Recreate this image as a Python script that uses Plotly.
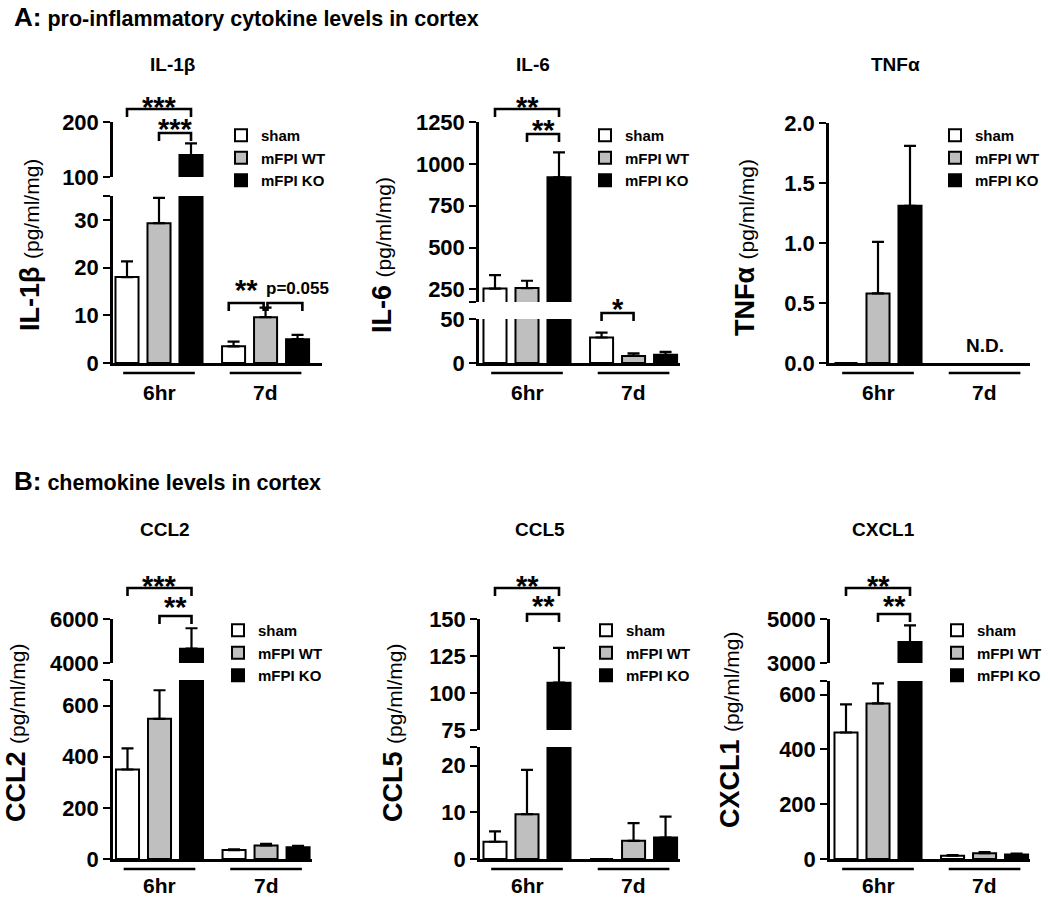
import plotly.graph_objects as go

W, H = 1050, 897
FONT = "Liberation Sans, Arial, sans-serif"

# ---------------- data ----------------
groups = ["6hr", "7d"]
conditions = ["sham", "mFPI WT", "mFPI KO"]
bar_fill = ["#ffffff", "#bfbfbf", "#000000"]

# order of values: 6hr sham, 6hr mFPI WT, 6hr mFPI KO, 7d sham, 7d mFPI WT, 7d mFPI KO
il1b_mean = [18.0, 29.3, 140.0, 3.5, 9.6, 5.0]
il1b_sem = [3.3, 5.3, 21.0, 1.0, 2.0, 0.9]
il6_mean = [255, 258, 920, 29, 8, 9.4]
il6_sem = [80, 44, 148, 5.5, 3, 3.3]
tnfa_mean = [0.0, 0.58, 1.31, None, None, None]
tnfa_sem = [0.0, 0.43, 0.50, None, None, None]
ccl2_mean = [350, 548, 4650, 35, 53, 46]
ccl2_sem = [83, 112, 930, 3, 6, 5]
ccl5_mean = [3.7, 9.6, 107, 0.0, 3.9, 4.6]
ccl5_sem = [2.2, 9.5, 23.5, 0.0, 3.8, 4.5]
cxcl1_mean = [462, 568, 3950, 12, 21, 16]
cxcl1_sem = [103, 73, 760, 2, 4, 4]

# broken-axis segments (range) and tick values
il1b_low, il1b_low_ticks = (0, 35), [0, 10, 20, 30]
il1b_up, il1b_up_ticks = (100, 200), [100, 200]
il6_low, il6_low_ticks = (0, 50), [0, 50]
il6_up, il6_up_ticks = (175, 1250), [250, 500, 750, 1000, 1250]
tnfa_low, tnfa_low_ticks = (0, 2.0), [0.0, 0.5, 1.0, 1.5, 2.0]
ccl2_low, ccl2_low_ticks = (0, 700), [0, 200, 400, 600]
ccl2_up, ccl2_up_ticks = (4000, 6000), [4000, 6000]
ccl5_low, ccl5_low_ticks = (0, 24), [0, 10, 20]
ccl5_up, ccl5_up_ticks = (75, 150), [75, 100, 125, 150]
cxcl1_low, cxcl1_low_ticks = (0, 650), [0, 200, 400, 600]
cxcl1_up, cxcl1_up_ticks = (3000, 5000), [3000, 5000]

# ---------------- layout helpers ----------------
positions = [0, 1, 2, 3.33, 4.33, 5.33]   # bar slots
BAR_W = 0.72
UNIT = 32.0  # px per slot

# bracket: (bar i, bar j, shift i, shift j, bracket y px, label, label dx, label centre y px)
panels = [
    dict(title="IL-1β", mean=il1b_mean, sem=il1b_sem, low=il1b_low, low_ticks=il1b_low_ticks,
         up=il1b_up, up_ticks=il1b_up_ticks, fmt="{:g}",
         ax_x=113, x_end=322, c0=127, low_px=(363, 196), up_px=(177, 122),
         title_xy=(173, 65), ylab_xy=(30, 245), leg_xy=(263, 136), under_y=373, lab_y=392,
         brackets=[(0, 2, 0, 0, 109, "***", 0, 101), (1, 2, 0, 0, 133, "***", 0, 123),
                   (3, 4, -0.15, -0.06, 303, "**", 0, 284),
                   (4, 5, 0.06, 0.15, 303, "p=0.055", 0.4, 288)],
         notes=[]),
    dict(title="IL-6", mean=il6_mean, sem=il6_sem, low=il6_low, low_ticks=il6_low_ticks,
         up=il6_up, up_ticks=il6_up_ticks, fmt="{:g}",
         ax_x=479, x_end=680, c0=495, low_px=(363, 319), up_px=(302, 122),
         title_xy=(533, 65), ylab_xy=(382, 255), leg_xy=(627, 136), under_y=373, lab_y=392,
         brackets=[(0, 2, 0, 0, 109, "**", 0, 101), (1, 2, 0, 0, 134, "**", 0, 124),
                   (3, 4, 0, 0, 313, "*", 0, 303)],
         notes=[]),
    dict(title="TNFα", mean=tnfa_mean, sem=tnfa_sem, low=tnfa_low, low_ticks=tnfa_low_ticks,
         up=None, up_ticks=None, fmt="{:.1f}",
         ax_x=829, x_end=1030, c0=846, low_px=(363, 123), up_px=None,
         title_xy=(895, 65), ylab_xy=(745, 248), leg_xy=(977, 136), under_y=373, lab_y=392,
         brackets=[], notes=[(4.33, 345, "N.D.")]),
    dict(title="CCL2", mean=ccl2_mean, sem=ccl2_sem, low=ccl2_low, low_ticks=ccl2_low_ticks,
         up=ccl2_up, up_ticks=ccl2_up_ticks, fmt="{:g}",
         ax_x=113, x_end=312, c0=127.5, low_px=(859, 680), up_px=(663, 619),
         title_xy=(165, 529), ylab_xy=(16, 733), leg_xy=(260, 631), under_y=869, lab_y=885,
         brackets=[(0, 2, 0, 0, 588, "***", 0, 580), (1, 2, 0, 0, 616, "**", 0, 601)],
         notes=[]),
    dict(title="CCL5", mean=ccl5_mean, sem=ccl5_sem, low=ccl5_low, low_ticks=ccl5_low_ticks,
         up=ccl5_up, up_ticks=ccl5_up_ticks, fmt="{:g}",
         ax_x=480, x_end=680, c0=495, low_px=(859, 747), up_px=(730, 619),
         title_xy=(540, 529), ylab_xy=(393, 733), leg_xy=(628, 631), under_y=869, lab_y=885,
         brackets=[(0, 2, 0, 0, 588, "**", 0, 580), (1, 2, 0, 0, 614, "**", 0, 600)],
         notes=[]),
    dict(title="CXCL1", mean=cxcl1_mean, sem=cxcl1_sem, low=cxcl1_low, low_ticks=cxcl1_low_ticks,
         up=cxcl1_up, up_ticks=cxcl1_up_ticks, fmt="{:g}",
         ax_x=830, x_end=1030, c0=846, low_px=(859, 681), up_px=(663, 619),
         title_xy=(883, 529), ylab_xy=(730, 730), leg_xy=(979, 631), under_y=869, lab_y=885,
         brackets=[(0, 2, 0, 0, 588, "**", 0, 580), (1, 2, 0, 0, 614, "**", 0, 600)],
         notes=[]),
]


def tref(prefix, n):
    return prefix if n == 1 else f"{prefix}{n}"


def lkey(prefix, n):
    return prefix + "axis" + ("" if n == 1 else str(n))


def seg_axis(rng, px, ticks, fmt, xanchor):
    vals = list(ticks)
    text = [fmt.format(v) for v in ticks]
    for end in rng:
        if not any(abs(end - v) < 1e-9 for v in vals):
            vals.append(end)
            text.append("")
    return dict(
        domain=[1 - px[0] / H, 1 - px[1] / H], range=list(rng), anchor=xanchor,
        showline=True, linewidth=2.5, linecolor="black", mirror=False,
        ticks="outside", ticklen=7, tickwidth=2.2, tickcolor="black",
        tickmode="array", tickvals=vals, ticktext=text,
        tickfont=dict(family=FONT, size=22, color="black", weight="bold"),
        showgrid=False, zeroline=False, fixedrange=True,
    )


fig = go.Figure()
layout = {}
annotations = []
OVY = 13

layout[lkey("y", OVY)] = dict(domain=[0, 1], range=[H, 0], visible=False, anchor="x7", fixedrange=True)

for k, p in enumerate(panels):
    mx, ox = k + 1, k + 7
    ly, uy = k + 1, k + 7
    xr = [(p["ax_x"] - p["c0"]) / UNIT, (p["x_end"] - p["c0"]) / UNIT]
    xdom = [p["ax_x"] / W, p["x_end"] / W]
    layout[lkey("x", mx)] = dict(domain=xdom, range=xr, anchor=tref("y", ly), showline=True,
                                 linewidth=2.5, linecolor="black", ticks="", showticklabels=False,
                                 showgrid=False, zeroline=False, fixedrange=True)
    layout[lkey("x", ox)] = dict(domain=xdom, range=xr, anchor=tref("y", OVY), visible=False,
                                 fixedrange=True)
    layout[lkey("y", ly)] = seg_axis(p["low"], p["low_px"], p["low_ticks"], p["fmt"], tref("x", mx))
    segs = [tref("y", ly)]
    if p["up"] is not None:
        layout[lkey("y", uy)] = seg_axis(p["up"], p["up_px"], p["up_ticks"], p["fmt"], tref("x", mx))
        segs.append(tref("y", uy))

    leg = "legend" if k == 0 else f"legend{k + 1}"
    lx, lyy = p["leg_xy"]
    layout[leg] = dict(x=(lx - 42) / W, y=1 - (lyy - 17) / H, xanchor="left", yanchor="top",
                       bgcolor="rgba(0,0,0,0)", traceorder="normal", tracegroupgap=0,
                       font=dict(family=FONT, size=15, color="black", weight="bold"),
                       itemclick=False, itemdoubleclick=False)

    for si, seg in enumerate(segs):
        for c in range(3):
            idx = [c, c + 3]
            fig.add_trace(go.Bar(
                x=[positions[i] for i in idx],
                y=[p["mean"][i] for i in idx],
                width=BAR_W,
                name=conditions[c],
                marker=dict(color=bar_fill[c], line=dict(color="black", width=2)),
                error_y=dict(type="data", symmetric=False,
                             array=[p["sem"][i] for i in idx],
                             arrayminus=[0 if p["sem"][i] is not None else None for i in idx],
                             color="black", thickness=2.2, width=6),
                xaxis=tref("x", mx), yaxis=seg, legend=leg,
                showlegend=(si == 0), hoverinfo="skip",
            ))

    # significance brackets
    bx, by = [], []
    for (i, j, di, dj, yb, lab, ldx, lyc) in p["brackets"]:
        x1, x2 = positions[i] + di, positions[j] + dj
        bx += [x1, x1, x2, x2, None]
        by += [yb + 8, yb, yb, yb + 8, None]
        if lab.startswith("*"):
            fs, yt = 29, lyc + 6
        else:
            fs, yt = 17, lyc
        annotations.append(dict(x=(x1 + x2) / 2 + ldx, y=yt, xref=tref("x", ox), yref=tref("y", OVY),
                                text=f"<b>{lab}</b>", showarrow=False, xanchor="center",
                                yanchor="middle", font=dict(family=FONT, size=fs, color="black")))
    # group underlines
    for g in range(2):
        x1, x2 = positions[3 * g] - 0.12, positions[3 * g + 2] + 0.12
        bx += [x1, x2, None]
        by += [p["under_y"], p["under_y"], None]
        annotations.append(dict(x=sum(positions[3 * g:3 * g + 3]) / 3, y=p["lab_y"],
                                xref=tref("x", ox), yref=tref("y", OVY), text=f"<b>{groups[g]}</b>",
                                showarrow=False, xanchor="center", yanchor="middle",
                                font=dict(family=FONT, size=21, color="black")))
    fig.add_trace(go.Scatter(x=bx, y=by, mode="lines", line=dict(color="black", width=2.6),
                             xaxis=tref("x", ox), yaxis=tref("y", OVY), showlegend=False,
                             hoverinfo="skip"))
    for (nx, ny, nt) in p["notes"]:
        annotations.append(dict(x=nx, y=ny, xref=tref("x", ox), yref=tref("y", OVY),
                                text=f"<b>{nt}</b>", showarrow=False, xanchor="center",
                                yanchor="middle", font=dict(family=FONT, size=19, color="black")))

    tx, ty = p["title_xy"]
    annotations.append(dict(x=tx / W, y=1 - ty / H, xref="paper", yref="paper",
                            text=f"<b>{p['title']}</b>", showarrow=False, xanchor="center",
                            yanchor="middle", font=dict(family=FONT, size=19, color="black")))
    yx, yy = p["ylab_xy"]
    annotations.append(dict(x=yx / W, y=1 - yy / H, xref="paper", yref="paper", textangle=-90,
                            text=f"<b>{p['title']}</b> <span style='font-size:21px'>(pg/ml/mg)</span>",
                            showarrow=False, xanchor="center", yanchor="middle",
                            font=dict(family=FONT, size=27, color="black")))

annotations.append(dict(x=12 / W, y=1 - 17 / H, xref="paper", yref="paper", xanchor="left",
                        yanchor="middle", showarrow=False,
                        text="<b><span style='font-size:26px'>A:</span> pro-inflammatory cytokine levels in cortex</b>",
                        font=dict(family=FONT, size=21.5, color="black")))
annotations.append(dict(x=12 / W, y=1 - 481 / H, xref="paper", yref="paper", xanchor="left",
                        yanchor="middle", showarrow=False,
                        text="<b><span style='font-size:26px'>B:</span> chemokine levels in cortex</b>",
                        font=dict(family=FONT, size=21.5, color="black")))

fig.update_layout(
    width=W, height=H, margin=dict(l=0, r=0, t=0, b=0, autoexpand=False),
    paper_bgcolor="white", plot_bgcolor="rgba(0,0,0,0)",
    barmode="overlay", hovermode=False, showlegend=True,
    font=dict(family=FONT, color="black"),
    annotations=annotations, **layout,
)

fig.write_html("out.html", config={"displayModeBar": False},
               post_script="document.body.style.margin='0';document.body.style.overflow='hidden';")
